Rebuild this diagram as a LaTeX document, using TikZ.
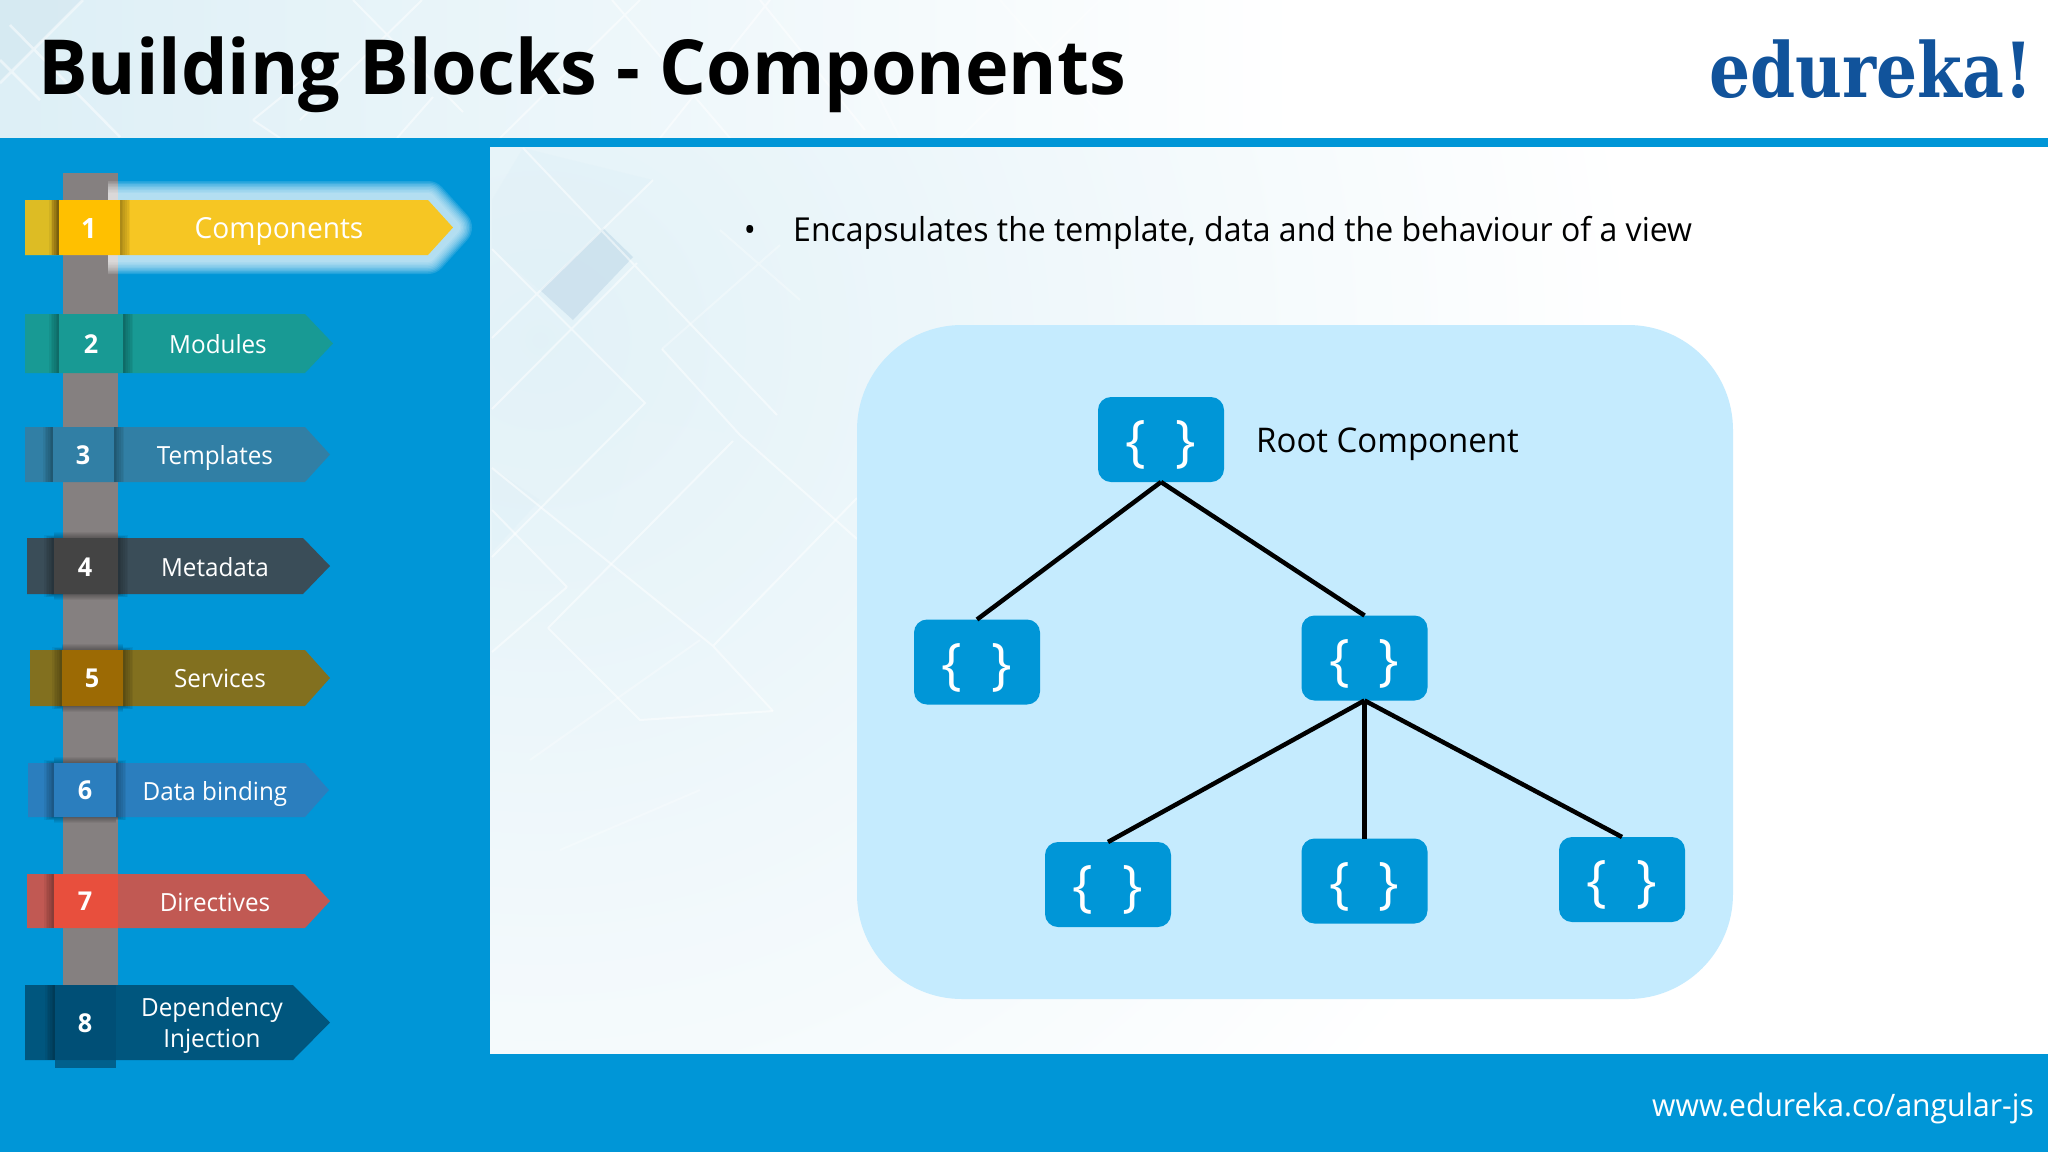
\documentclass[tikz,border=0pt]{standalone}
\usepackage{fontspec}
\newfontfamily\ui[FakeStretch=0.97]{Open Sans}
\newfontfamily\logofont[FakeStretch=0.85]{DejaVu Serif}
\newcommand\setfs[1]{\fontsize{#1}{#1}\selectfont}
\newcommand\curly{\smash{\raisebox{-21pt}{\{\hspace{29pt}\}}}}
\definecolor{ebar}{HTML}{0096D7}
\definecolor{ebox}{HTML}{C5EBFE}
\definecolor{egray}{HTML}{858080}
\definecolor{elogo}{HTML}{11539B}
\definecolor{epale}{HTML}{DDEFF6}
\definecolor{etail}{HTML}{DDBC24}
\definecolor{edepth}{HTML}{00608C}
\definecolor{epatch}{HTML}{C9DFEC}
\tikzset{
  comp/.style={draw=none,fill=ebar,rounded corners=13pt,minimum width=126pt,minimum height=85pt,inner sep=0pt,outer sep=0pt,text=white,font=\ui\setfs{56}},
  link/.style={draw=black,line width=4.5pt},
  navlabel/.style={anchor=base,inner sep=0pt,text=white,font=\ui\setfs{25}},
  navnum/.style={anchor=base,inner sep=0pt,text=white,font=\ui\bfseries\setfs{26}},
  patline/.style={draw=white,line width=2pt,opacity=.5},
  patfill/.style={fill=#1,draw=none,opacity=.3}
}
% left tail, sq left, sq right, top, bottom, body end, tip, arrow colour, square colour
\newcommand\navtab[9]{%
  \definecolor{tabbody}{HTML}{#8}\definecolor{tabsq}{HTML}{#9}%
  \pgfmathsetmacro\oprs{.055*\rs}\pgfmathsetmacro\opvb{.05*\vb}%
  \fill[tabbody] (#1,#4) -- (#6,#4) -- (#7,{(#4+#5)/2}) -- (#6,#5) -- (#1,#5) -- cycle;
  \foreach \i in {1,...,6}{
    \fill[black,opacity=.055] ({#2-1.7*\i},{#4-\vs*\i}) rectangle (#2,{#5+\vs*\i});
    \fill[black,opacity=\oprs] (#3,{#4-\vs*\i}) rectangle ({#3+1.7*\i},{#5+\vs*\i});
    \fill[black,opacity=\opvb] (#2,{#4-\i}) rectangle (#3,{#5+\i});
  }
  \fill[tabsq] (#2,#4) rectangle (#3,#5);
}
\def\rs{1}\def\vs{0}\def\vb{0}
\begin{document}
\begin{tikzpicture}[x=1pt,y=-1pt]
\useasboundingbox (0,0) rectangle (2048,1152);
% header background
\fill[white] (0,0) rectangle (2048,1152);
\shade[left color=epale,right color=white] (0,0) rectangle (1300,138);
\begin{scope}
\clip (0,0) rectangle (1300,138);
\fill[patfill=epatch] (0,0) -- (83,0) -- (0,83) -- cycle;
\draw[patline,line width=2.5pt] (83,0) -- (0,83) (10,25) -- (120,137) (0,60) -- (40,100);
\draw[patline] (353,0) -- (463,112) (422,0) -- (300,120) (253,120) -- (333,55) (253,120) -- (280,138) (433,97) -- (397,138);
\draw[patline] (612,0) -- (730,138) (640,0) -- (500,138) (760,0) -- (865,130) (770,0) -- (660,138);
\draw[patline,opacity=.35] (1000,0) -- (1120,138) (1100,0) -- (960,138) (860,60) -- (900,138);
\end{scope}
% panel background
\begin{scope}
\clip (490,147) rectangle (2048,1054);
\shade[inner color=epale!85!white,outer color=white] (540,340) circle (1100);
\fill[epatch,opacity=.8] (540,290) -- (603,228) -- (633,257) -- (573,320) -- cycle;
\fill[patfill=epale] (492,200) -- (523,148) -- (653,180) -- (540,290) -- (492,249) -- cycle;
\fill[patfill=epale] (492,468) -- (540,500) -- (492,552) -- cycle;
\fill[patfill=epale!60!white] (640,420) -- (740,435) -- (800,560) -- (690,650) -- (600,560) -- cycle;
\draw[patline] (523,148) -- (777,415) (492,249) -- (645,403) -- (492,557) (653,180) -- (492,338) (637,263) -- (492,409);
\draw[patline] (662,349) -- (740,435) -- (857,539) (548,628) -- (733,441) (548,628) -- (640,720) -- (773,711);
\draw[patline] (492,468) -- (713,646) -- (773,711) (567,587) -- (492,652) (492,510) -- (567,587) (857,498) -- (713,646);
\draw[patline,opacity=.3] (662,349) -- (780,245) (800,300) -- (720,230) (530,760) -- (700,640) (560,850) -- (700,790);
\end{scope}
% blue frame
\fill[ebar] (0,138) rectangle (2048,147);
\fill[ebar] (0,147) rectangle (490,1152);
\fill[ebar] (490,1054) rectangle (2048,1152);
% sidebar column
\fill[egray] (63,173) rectangle (118,986);
% glow of the active tab
\begin{scope}
\clip (108,170) rectangle (485,285);
\foreach \w in {38,35,32,29,26,23,20,17,14}{
  \draw[white,opacity=.13,line width=\w pt,line join=round] (25,200) -- (428,200) -- (453,227.5) -- (428,255) -- (25,255) -- cycle;
}
\end{scope}
% tabs
\navtab{25}{59}{120}{200}{255}{428}{453}{F6C623}{FFC000}
\fill[etail] (25,200) rectangle (52,255);
\foreach \i in {1,...,6}{\fill[black,opacity=.055] ({59-1.7*\i},200) rectangle (59,255);}
\navtab{25}{59}{123}{314}{373}{305}{333}{189A94}{189A94}
\navtab{25}{53}{114}{427}{482}{305}{330}{317FA5}{317FA5}
\def\vs{.5}\def\vb{1}
\navtab{27}{54}{118}{538}{594}{303}{330}{3A4D58}{444444}
\navtab{30}{62}{123}{650}{706}{305}{330}{82701F}{9C6A04}
\navtab{28}{54}{116}{763}{817}{305}{329}{2B7EBE}{2B7EBE}
\def\rs{0}\def\vs{0}\def\vb{0}
\navtab{27}{54}{118}{874}{928}{305}{330}{C15953}{E84F3D}
\fill[edepth] (55,1059) rectangle (116,1068);
\navtab{25}{55}{116}{985}{1060}{293}{330}{00567E}{004F76}
% tab labels
\node[navnum,font=\ui\bfseries\setfs{28}] (n1) at (89,238) {1};
\node[navlabel,font=\ui\setfs{29}] (t1) at (279,238) {Components};
\node[navnum] (n2) at (91,353) {2};
\node[navlabel] (t2) at (218,353) {Modules};
\node[navnum] (n3) at (83,464) {3};
\node[navlabel] (t3) at (215,464) {Templates};
\node[navnum] (n4) at (85,576) {4};
\node[navlabel] (t4) at (215,576) {Metadata};
\node[navnum] (n5) at (92,687) {5};
\node[navlabel] (t5) at (220,687) {Services};
\node[navnum] (n6) at (85,799) {6};
\node[navlabel] (t6) at (215,800) {Data binding};
\node[navnum] (n7) at (85,910) {7};
\node[navlabel] (t7) at (215,911) {Directives};
\node[navnum] (n8) at (85,1032) {8};
\node[anchor=center,inner sep=0pt,text=white,align=center,font=\ui\fontsize{25}{31}\selectfont] (t8) at (212,1025.5) {Dependency\\Injection};
% title and logo
\node[anchor=base west,inner sep=0pt,font=\ui\bfseries\setfs{76}] (title) at (38,94) {Building Blocks - Components};
\node[anchor=base east,inner sep=0pt,text=elogo,font=\logofont\bfseries\setfs{76}] (logo) at (2033,97) {edureka!};
\node[anchor=base west,inner sep=0pt,text=white,font=\ui\setfs{31}] (url) at (1652,1116) {www.edureka.co/angular-js};
% bullet line
\node[anchor=base,inner sep=0pt,font=\ui\setfs{33}] (bullet) at (750,241) {•};
\node[anchor=base west,inner sep=0pt,font=\ui\setfs{33}] (lead) at (793,241) {Encapsulates the template, data and the behaviour of a view};
% tree
\fill[ebox] (857,430) arc[start angle=180,end angle=270,radius=105] -- (1628,325) arc[start angle=-90,end angle=0,radius=105] -- (1733,894) arc[start angle=0,end angle=90,radius=105] -- (962,999) arc[start angle=90,end angle=180,radius=105] -- cycle;
\node[comp] (root) at (1161,439.5) {\curly};
\node[comp] (lc) at (977,662) {\curly};
\node[comp] (rc) at (1364.5,658) {\curly};
\node[comp] (b1) at (1108,884.5) {\curly};
\node[comp] (b2) at (1364.5,881) {\curly};
\node[comp] (b3) at (1622,879.5) {\curly};
\node[anchor=base west,inner sep=0pt,font=\ui\setfs{34}] (rootlabel) at (1256,452) {Root Component};
\draw[link] (root.south) -- (lc.north);
\draw[link] (root.south) -- (rc.north);
\draw[link] (rc.south) -- (b1.north);
\draw[link] (rc.south) -- (b2.north);
\draw[link] (rc.south) -- (b3.north);
\end{tikzpicture}
\end{document}
